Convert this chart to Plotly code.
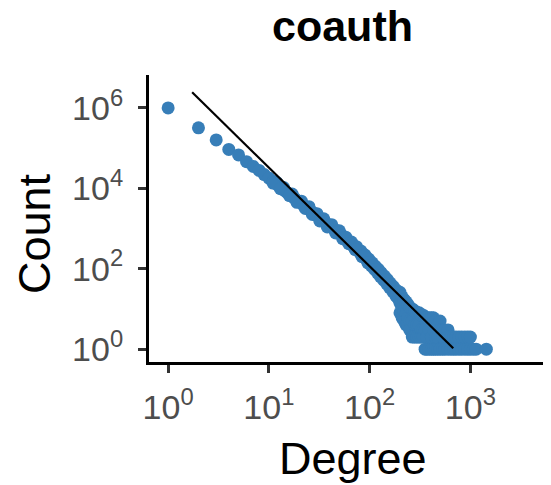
import plotly.graph_objects as go

# ---- data (degree distribution, log-log) ----
band_degree = [1, 2, 3, 4, 5, 6, 7, 8, 9, 10, 11, 12, 13, 14, 15, 16, 17, 18, 19, 20,
               22, 24, 26, 28, 30, 33, 36, 40, 44, 48, 52, 56, 60, 65, 70, 75, 80,
               86, 92, 100, 108, 116, 125, 135, 145, 155, 165, 180, 195]
band_count = [1.0e6, 3.2e5, 1.6e5, 9.3e4, 6.8e4, 4.6e4, 3.5e4, 2.8e4, 2.2e4, 1.8e4,
              1.5e4, 1.25e4, 1.07e4, 9100, 8000, 7000, 6300, 5600, 5000, 4600,
              3800, 3200, 2750, 2400, 2100, 1740, 1480, 1200, 1000, 850, 720, 600,
              500, 415, 345, 295, 250, 210, 175, 140, 115, 95, 78, 63, 51, 43, 35, 28, 22]

spread_degree = [12, 14, 17, 21, 25, 30, 35, 42, 50, 58, 66, 74, 82, 90, 98, 106,
                 114, 122, 130, 140, 150, 160, 172, 185,
                 11, 13, 16, 19, 23, 27, 32, 38, 46, 54, 62, 72, 84, 96, 104,
                 112, 120, 128, 138, 148, 158, 170, 182, 192]
spread_count = [1.4e4, 1.05e4, 7200, 4800, 3500, 2350, 1750, 1250, 880, 610, 460, 355,
                275, 220, 175, 140, 115, 97, 80, 66, 54, 44, 36, 29,
                1.35e4, 9800, 6600, 4500, 3150, 2250, 1550, 1100, 780, 560, 420, 300,
                200, 140, 118, 96, 78, 64, 52, 42, 34, 27, 21, 18]

tail_degree = [200, 200, 200, 210, 210, 210, 220, 220, 220, 230, 230, 230,
               240, 240, 240, 250, 250, 250, 265, 265, 265, 280, 280, 280,
               295, 295, 295, 310, 310, 310, 325, 325, 325, 340, 340, 340,
               355, 355, 355, 370, 370, 370, 390, 390, 390, 410, 410, 410,
               430, 430, 430, 450, 450, 450, 475, 475, 475, 500, 500, 500,
               530, 530, 530, 560, 560, 600, 600, 600, 640, 640, 680, 680,
               720, 720, 770, 770, 820, 820, 880, 880, 940, 940, 1000, 1000,
               1070, 1140, 1440]
tail_count = [26, 14, 8, 20, 11, 6, 17, 9, 5, 15, 8, 4,
              13, 6, 4, 11, 5, 3, 10, 5, 2, 9, 4, 2,
              8, 4, 2, 8, 4, 2, 7, 3, 2, 7, 3, 2,
              6, 3, 1, 6, 2, 1, 6, 3, 1, 6, 2, 1,
              6, 3, 1, 5, 2, 1, 4, 2, 1, 5, 3, 1,
              3, 2, 1, 3, 1, 3, 2, 1, 2, 1, 2, 1,
              2, 1, 2, 1, 2, 1, 2, 1, 2, 1, 2, 1,
              1, 1, 1]

fit_degree = [1.73, 676]
fit_count = [2.45e6, 1.05]

x_tickvals = [1, 10, 100, 1000]
x_ticktext = ["10<sup>0</sup>", "10<sup>1</sup>", "10<sup>2</sup>", "10<sup>3</sup>"]
y_tickvals = [1, 100, 10000, 1000000]
y_ticktext = ["10<sup>0</sup>", "10<sup>2</sup>", "10<sup>4</sup>", "10<sup>6</sup>"]

title_text = "coauth"
x_title = "Degree"
y_title = "Count"

POINT = "#377EB8"
FONT = "Liberation Sans, Arial, Helvetica, sans-serif"

# the page body has an 8px margin; the figure is sized/placed to compensate
OFF = 8
W, H = 551 - OFF, 485 - OFF
PL, PR, PT, PB = 149, 551, 75, 362  # target plot-area edges in window pixels

fig = go.Figure()
fig.add_trace(go.Scatter(
    x=band_degree + spread_degree + tail_degree,
    y=band_count + spread_count + tail_count,
    mode="markers",
    marker=dict(color=POINT, size=13, line=dict(width=0)),
    showlegend=False, hoverinfo="x+y"))
fig.add_trace(go.Scatter(
    x=fit_degree, y=fit_count, mode="lines",
    line=dict(color="black", width=2.2), showlegend=False))

axis_common = dict(
    type="log", showgrid=False, zeroline=False,
    showline=True, linecolor="black", linewidth=3,
    ticks="outside", ticklen=8, tickwidth=3, tickcolor="#333333",
    tickmode="array",
    tickfont=dict(family=FONT, size=34, color="#4D4D4D"),
)

pw, ph = PR - PL, PB - PT
fig.update_layout(
    width=W, height=H,
    margin=dict(l=PL - OFF, r=(OFF + W) - PR, t=PT - OFF, b=(OFF + H) - PB),
    paper_bgcolor="white", plot_bgcolor="white",
    font=dict(family=FONT),
    title=dict(text="<b>" + title_text + "</b>", xref="container", yref="container",
               x=(342.5 - OFF) / W, y=1 - (25.5 - OFF) / H, xanchor="center", yanchor="middle",
               font=dict(family=FONT, size=43, color="black")),
    xaxis=dict(axis_common, range=[-0.19, 3.80], tickvals=x_tickvals, ticktext=x_ticktext,
               ticklabelstandoff=5),
    yaxis=dict(axis_common, range=[-0.32, 6.82], tickvals=y_tickvals, ticktext=y_ticktext,
               ticklabelstandoff=8),
    annotations=[
        dict(text=x_title, xref="paper", yref="paper", x=(352.5 - PL) / pw, y=(PB - 458) / ph,
             xanchor="center", yanchor="middle", showarrow=False,
             font=dict(family=FONT, size=45, color="black")),
        dict(text=y_title, xref="paper", yref="paper", x=(34 - PL) / pw, y=(PB - 234) / ph,
             xanchor="center", yanchor="middle", showarrow=False, textangle=-90,
             font=dict(family=FONT, size=45, color="black")),
    ],
)

fig.write_html("out.html")
